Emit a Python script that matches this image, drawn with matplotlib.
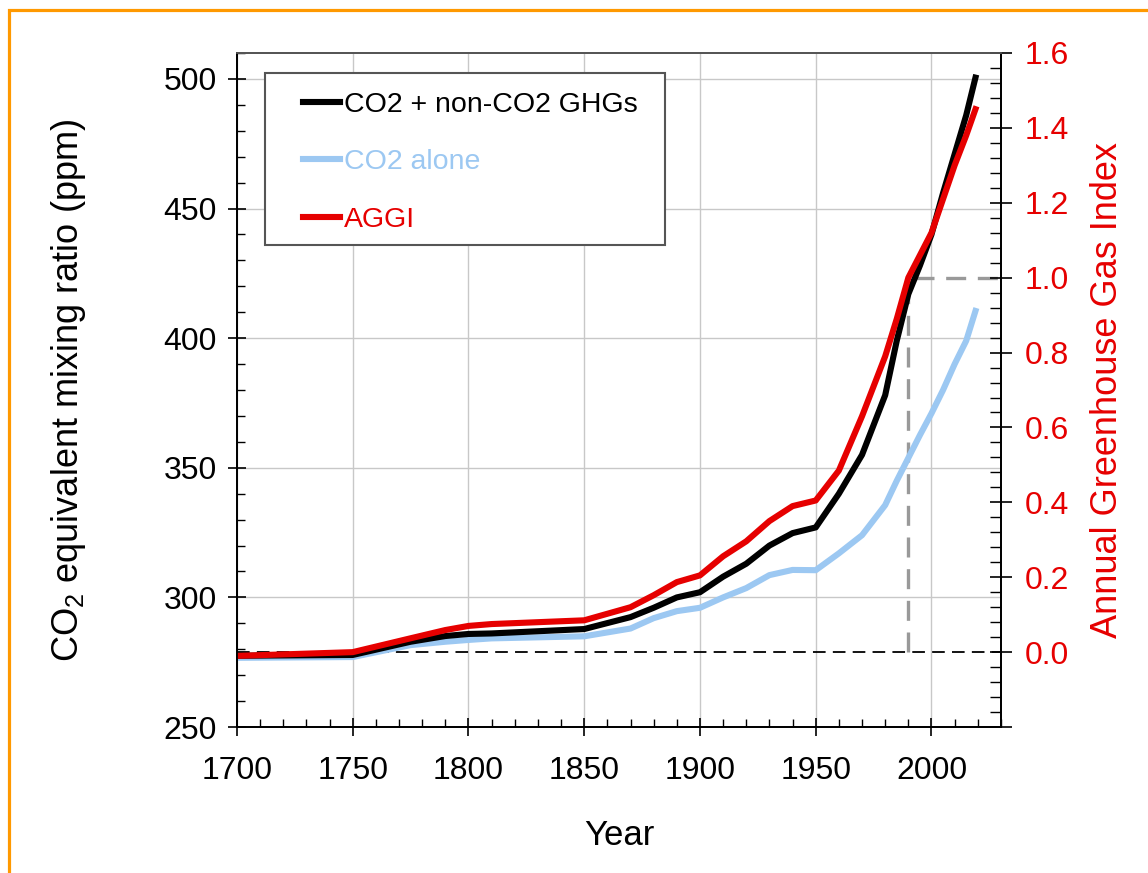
import matplotlib
matplotlib.use("Agg")
import matplotlib.pyplot as plt
import matplotlib.transforms as mtransforms
from matplotlib.patches import Rectangle
from matplotlib.ticker import MultipleLocator, FixedLocator
import numpy as np

plt.rcParams['font.family'] = ['Liberation Sans', 'DejaVu Sans']
plt.rcParams['mathtext.default'] = 'regular'

years = [1700, 1750, 1775, 1790, 1800, 1810, 1850, 1870, 1880, 1890, 1900,
         1910, 1920, 1930, 1940, 1950, 1960, 1970, 1980, 1985, 1990, 1995,
         2000, 2005, 2010, 2015, 2019]
co2_total = [277.5, 277.8, 282.9, 285.1, 285.9, 286.1, 287.8, 292.4, 296.0,
             300.0, 302.0, 308.0, 313.0, 320.0, 324.8, 327.0, 340.0, 355.0,
             378.0, 399.0, 417.0, 428.0, 440.0, 456.0, 471.0, 486.0, 500.5]
co2_alone = [276.7, 277.0, 281.6, 282.9, 283.6, 284.2, 285.0, 288.0, 292.0,
             294.7, 296.0, 300.0, 303.6, 308.6, 310.6, 310.5, 317.0, 324.0,
             335.6, 345.0, 353.8, 362.6, 371.0, 380.0, 390.0, 399.0, 410.5]
aggi = [-0.01, 0.0, 0.037, 0.059, 0.07, 0.075, 0.085, 0.12, 0.152, 0.187,
        0.205, 0.256, 0.296, 0.35, 0.39, 0.405, 0.485, 0.63, 0.79, 0.89,
        1.0, 1.06, 1.12, 1.21, 1.30, 1.38, 1.45]

ref_year = 1990
ref_index = 1.0

red = '#e60000'
blue = '#9cc8f2'
grid_gray = '#c8c8c8'

fig = plt.figure(figsize=(11.48, 8.73), dpi=100)
ax = fig.add_axes([0.2064, 0.1672, 0.6655, 0.7721])
ax2 = ax.twinx()

# gridlines on the ppm / year axes
ax.set_axisbelow(True)
ax.grid(True, which='major', color=grid_gray, lw=1.0)

# reference lines drawn in AGGI units but kept beneath the curves
blend = mtransforms.blended_transform_factory(ax.transData, ax2.transData)
ax.plot([1700, 2030], [0, 0], transform=blend, color='black', lw=1.3,
        dashes=(7, 4), zorder=1.5)
ax.plot([ref_year, ref_year, 2030], [0, ref_index, ref_index], transform=blend,
        color='#999999', lw=2.4, dashes=(6, 3.5), zorder=1.6)

lw = 4.4
ax.plot(years, co2_total, color='black', lw=lw, solid_joinstyle='round',
        label='CO2 + non-CO2 GHGs', zorder=3)
ax.plot(years, co2_alone, color=blue, lw=lw, solid_joinstyle='round',
        label='CO2 alone', zorder=2.5)
ax2.plot(years, aggi, color=red, lw=lw, solid_joinstyle='round', label='AGGI')

ax.set_xlim(1700, 2030)
ax.set_ylim(250, 510)
ax2.set_ylim(-0.2, 1.6)

ax.xaxis.set_major_locator(MultipleLocator(50))
ax.xaxis.set_minor_locator(MultipleLocator(10))
ax.yaxis.set_major_locator(MultipleLocator(50))
ax.yaxis.set_minor_locator(MultipleLocator(10))
ax2.yaxis.set_major_locator(FixedLocator(np.arange(-0.2, 1.61, 0.2)))
ax2.yaxis.set_minor_locator(MultipleLocator(0.04))
ax2.set_yticklabels(['' if t < -0.1 else f'{t:.1f}' for t in ax2.get_yticks()])

ax.tick_params(which='major', direction='inout', length=13, width=1.2,
               labelsize=23, pad=8)
ax.tick_params(axis='x', which='major', pad=14)
ax.tick_params(which='minor', direction='in', length=6, width=1.0)
ax.tick_params(top=False, right=False, which='both')
ax2.tick_params(which='major', direction='inout', length=16, width=1.2,
                labelsize=23, labelcolor=red, pad=9)
ax2.tick_params(which='minor', direction='in', length=8, width=1.0)

for sp in ax.spines.values():
    sp.set_linewidth(1.3)
for sp in ax2.spines.values():
    sp.set_linewidth(1.3)
ax2.spines['top'].set_color('#555555')
ax.spines['top'].set_color('#555555')

ax.set_xlabel('Year', fontsize=25)
ax.xaxis.set_label_coords(0.5, -0.137)
ax.set_ylabel('CO$_2$ equivalent mixing ratio (ppm)', fontsize=26)
ax.yaxis.set_label_coords(-0.195, 0.5)
ax2.set_ylabel('Annual Greenhouse Gas Index', fontsize=26, color=red)
ax2.yaxis.set_label_coords(1.1165, 0.5)

# legend box drawn separately so it can be wider than its entries
ax2.add_patch(Rectangle((0.0366, 0.7151), 0.5236, 0.2552, transform=ax2.transAxes,
                        facecolor='white', edgecolor='#555555', lw=1.5, zorder=4.9))
handles = ax.get_lines()[2:] + ax2.get_lines()
leg = ax2.legend(handles=handles, labels=[h.get_label() for h in handles],
                 loc='upper left', bbox_to_anchor=(0.0864, 0.942),
                 borderaxespad=0, fontsize=20.5, labelcolor='linecolor',
                 handlelength=1.3, handletextpad=0.15, labelspacing=1.1,
                 borderpad=0, frameon=False)

# orange frame around the figure
fig.patches.append(Rectangle((0.0078, -0.1), 1.2, 1.0885, transform=fig.transFigure,
                             fill=False, edgecolor='#ff9900', lw=2.3))

fig.savefig('out.png', dpi=100)
